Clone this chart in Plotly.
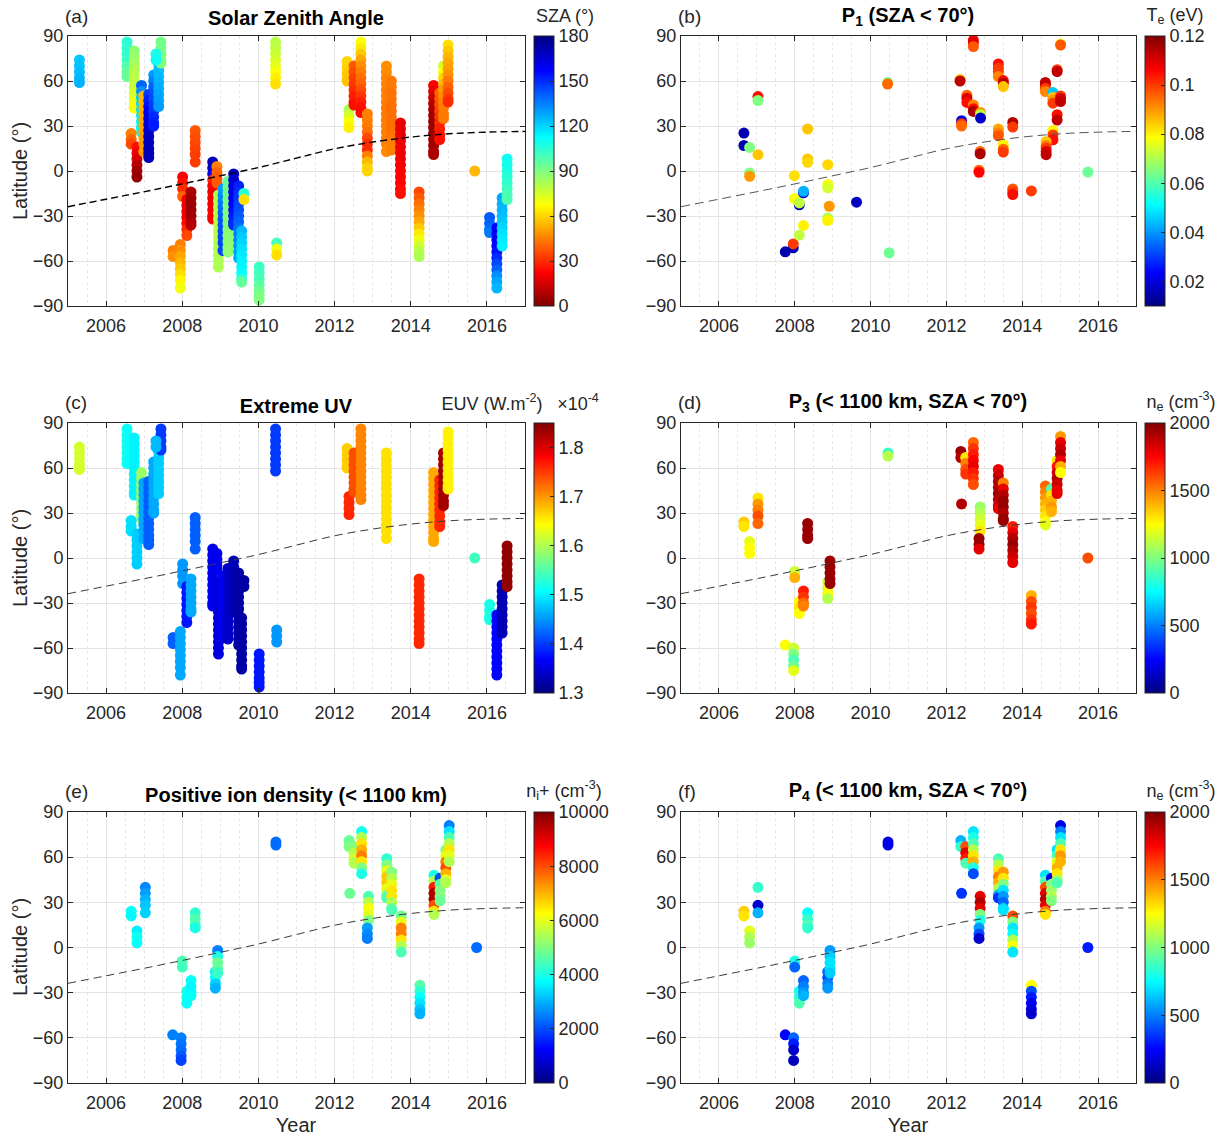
import plotly.graph_objects as go

FONT = "Liberation Sans, Arial, Helvetica, sans-serif"
W, H = 1225, 1140

# ---------------------------------------------------------------- data ----
# Saturn subsolar latitude (dashed curve on every panel)
subsolar_year = [2005, 2006, 2007, 2008, 2009, 2010, 2011, 2012, 2013, 2014, 2015, 2016, 2017]
subsolar_lat = [-23.8, -18.8, -13.8, -8.6, -3.2, 2.3, 8.6, 14.8, 19.3, 22.6, 24.8, 25.9, 26.4]

# Flyby tracks used in panels (a) and (c): decimal year, latitude samples,
# solar zenith angle along the track (deg) and EUV flux (x1e-4 W m^-2, None = no data)
ac_year = [2005.30, 2006.55, 2006.74, 2006.93, 2006.66, 2006.81, 2006.99, 2007.12,
           2007.25, 2007.38, 2007.44, 2007.31, 2007.76, 2007.95, 2008.01, 2008.12,
           2008.23, 2008.34, 2008.80, 2008.91, 2008.95, 2009.07, 2009.20, 2009.35,
           2009.48, 2009.56, 2009.62, 2010.02, 2010.45, 2010.48, 2012.33, 2012.38,
           2012.51, 2012.69, 2012.86, 2013.36, 2013.49, 2013.73, 2014.22, 2014.60,
           2014.76, 2014.86, 2014.98, 2015.68, 2016.07, 2016.26, 2016.40, 2016.53]
ac_lat = [
    [74, 70, 66, 62, 59],
    [86, 82, 78, 74, 70, 66, 63],
    [80, 76, 72, 68, 64, 60, 56, 52, 48, 44, 42],
    [57, 53, 49, 45, 41, 37, 33, 29, 26],
    [25, 21, 18],
    [16, 12, 8, 4, 0, -4],
    [50, 46, 42, 38, 34, 30, 26, 22, 18, 13],
    [51, 47, 43, 39, 35, 31, 27, 23, 19, 15, 12, 9],
    [64, 60, 56, 52, 48, 44, 40, 36, 32, 30],
    [71, 67, 63, 59, 55, 51, 47, 43],
    [86, 82, 78, 74, 72],
    [78, 74],
    [-53, -57],
    [-49, -53, -57, -61, -65, -69, -73, -78],
    [-4, -8, -12, -17],
    [-19, -23, -27, -31, -35, -39, -43],
    [-14, -18, -22, -26, -30, -34, -36],
    [27, 23, 19, 15, 11, 6],
    [6, 2, -2, -6, -10, -14, -18, -22, -26, -30, -32],
    [3, -1, -5, -8],
    [-16, -20, -24, -28, -32, -36, -40, -44, -48, -52, -56, -60, -64],
    [-12, -16, -20, -24, -28, -32, -36, -40, -44, -48, -53],
    [-7, -11, -15, -19, -23, -27, -31, -35, -39, -43, -47, -51, -54],
    [-2, -6, -10, -14, -18, -22, -26, -30, -34, -36],
    [-10, -14, -18, -22, -26, -30, -34, -38, -42, -46, -50, -54, -58],
    [-40, -44, -48, -52, -56, -60, -64, -68, -72, -74],
    [-15, -19],
    [-64, -68, -72, -76, -80, -83, -86],
    [86, 82, 78, 74, 70, 66, 62, 58],
    [-48, -52, -56],
    [73, 69, 65, 61, 60],
    [41, 37, 33, 29],
    [70, 66, 62, 58, 54, 50, 46, 44],
    [86, 82, 78, 74, 70, 66, 62, 58, 54, 50, 46, 42, 39],
    [38, 34, 30, 26, 22, 18, 14, 10, 6, 2, 0],
    [70, 66, 62, 58, 54, 50, 46, 42, 38, 34, 30, 26, 22, 18, 13],
    [60, 56, 52, 48, 44, 40, 36, 32, 28, 24, 20, 16, 14],
    [32, 28, 24, 20, 16, 12, 8, 4, 0, -4, -8, -12, -15],
    [-14, -18, -22, -26, -30, -34, -38, -42, -46, -50, -54, -57],
    [57, 53, 49, 45, 41, 37, 33, 29, 25, 21, 17, 13, 11],
    [52, 48, 44, 40, 36, 32, 28, 24, 21],
    [70, 66, 62, 58, 54, 50, 46, 42, 38, 35],
    [84, 80, 76, 72, 68, 64, 60, 56, 52, 48, 46],
    [0],
    [-31, -35, -39, -41],
    [-38, -42, -46, -50, -54, -58, -62, -66, -70, -74, -78],
    [-18, -22, -26, -30, -34, -38, -42, -46, -50],
    [8, 4, 0, -4, -8, -12, -16, -19],
]
ac_sza = [
    [122, 123, 124, 125, 126],
    [105, 104, 104, 103, 98, 95, 94],
    [88, 86, 84, 82, 80, 79, 78, 75, 72, 70, 68],
    [140, 132, 122, 120, 118, 116, 115, 114, 113],
    [45, 40, 35],
    [25, 20, 15, 10, 6, 4],
    [55, 55, 54, 53, 52, 52, 51, 50, 50, 50],
    [148, 152, 156, 160, 163, 165, 167, 168, 169, 170, 170, 170],
    [130, 135, 140, 143, 145, 147, 148, 150, 152, 153],
    [122, 124, 125, 126, 127, 128, 129, 130],
    [92, 92, 91, 90, 90],
    [108, 110],
    [45, 48],
    [45, 48, 52, 55, 58, 62, 66, 70],
    [22, 25, 30, 40],
    [20, 20, 20, 20, 25, 30, 35],
    [8, 6, 5, 5, 6, 8, 10],
    [38, 36, 35, 34, 33, 33],
    [170, 168, 160, 30, 22, 20, 20, 20, 20, 22, 22],
    [45, 40, 38, 38],
    [82, 81, 80, 80, 80, 79, 79, 80, 80, 81, 81, 82, 82],
    [130, 132, 135, 138, 140, 142, 143, 144, 145, 145, 145],
    [95, 94, 93, 92, 91, 90, 90, 89, 89, 88, 88, 87, 87],
    [168, 166, 164, 162, 160, 158, 156, 154, 152, 150],
    [152, 150, 148, 146, 144, 142, 140, 138, 136, 134, 132, 130, 128],
    [125, 122, 120, 118, 116, 115, 114, 112, 105, 95],
    [105, 62],
    [102, 101, 100, 96, 93, 91, 90],
    [80, 79, 77, 75, 72, 68, 65, 62],
    [100, 70, 62],
    [60, 60, 58, 58, 57],
    [82, 75, 68, 65],
    [38, 36, 34, 32, 30, 28, 26, 25],
    [68, 64, 58, 52, 48, 45, 42, 40, 36, 32, 28, 25, 24],
    [45, 45, 44, 42, 35, 30, 30, 45, 55, 60, 60],
    [48, 47, 46, 46, 45, 45, 45, 44, 44, 44, 45, 45, 45, 46, 47],
    [44, 44, 43, 43, 42, 42, 42, 42, 42, 43, 44, 45, 45],
    [18, 18, 19, 19, 20, 20, 20, 21, 22, 22, 23, 24, 25],
    [35, 38, 42, 45, 48, 52, 58, 64, 70, 76, 80, 82],
    [22, 18, 14, 10, 8, 6, 5, 5, 5, 6, 6, 7, 8],
    [40, 38, 36, 34, 32, 30, 28, 26, 25],
    [75, 68, 60, 55, 50, 48, 46, 45, 44, 44],
    [62, 58, 55, 52, 50, 48, 44, 40, 36, 32, 30],
    [55],
    [142, 140, 138, 136],
    [158, 160, 160, 158, 155, 150, 145, 140, 132, 128, 125],
    [128, 126, 125, 124, 122, 120, 118, 116, 115],
    [110, 109, 108, 106, 104, 102, 100, 99],
]
ac_euv = [1.62, 1.51, 1.50, 1.59, 1.49, 1.48, 1.46, 1.42, 1.46, 1.48, 1.40, 1.47,
          1.42, 1.46, 1.45, 1.38, 1.46, 1.42, 1.36, 1.36, 1.35, 1.36, 1.34, 1.33,
          1.32, 1.32, 1.32, 1.38, 1.40, 1.45, 1.67, 1.76, 1.74, 1.71, None, 1.66,
          None, None, 1.76, 1.69, 1.76, 1.83, 1.65, 1.54, 1.52, 1.37, 1.33, 1.84]

# Panel (b): P1 electron temperature samples (SZA < 70 deg)
p1_year = [2006.66, 2006.66, 2006.81, 2006.81, 2006.81, 2007.03, 2007.03, 2007.03,
           2007.75, 2007.96, 2007.96, 2007.99, 2007.99, 2008.12, 2008.12, 2008.23,
           2008.23, 2008.23, 2008.12, 2008.34, 2008.34, 2008.34, 2008.87, 2008.87,
           2008.87, 2008.91, 2008.87, 2008.87, 2009.63, 2010.45, 2010.45, 2010.49,
           2012.36, 2012.36, 2012.40, 2012.40, 2012.40, 2012.54, 2012.54, 2012.54,
           2012.71, 2012.71, 2012.71, 2012.71, 2012.71, 2012.71, 2012.90, 2012.90,
           2012.90, 2012.89, 2012.89, 2012.86, 2012.86, 2013.37, 2013.37, 2013.37,
           2013.37, 2013.50, 2013.50, 2013.50, 2013.37, 2013.37, 2013.37, 2013.50,
           2013.50, 2013.50, 2013.75, 2013.75, 2013.75, 2013.75, 2013.75, 2014.24,
           2014.61, 2014.61, 2014.61, 2014.61, 2014.81, 2014.81, 2014.81, 2014.81,
           2014.92, 2014.92, 2015.01, 2015.01, 2015.01, 2015.01, 2015.01, 2014.92,
           2014.92, 2014.81, 2014.81, 2014.81, 2014.63, 2014.63, 2014.63, 2014.63,
           2014.63, 2015.73]
p1_lat = [25.3, 17.0, 15.7, -1.3, -3.5, 49.6, 47.0, 10.9,
          -53.9, -51.2, -48.6, -3.1, -18.4, -22.5, -21.3, -14.5,
          -13.5, -36.4, -42.8, 28.0, 8.0, 5.8, 4.2, -9.0,
          -11.3, -23.5, -31.3, -33.0, -20.8, 59.0, 58.0, -54.5,
          61.0, 60.0, 33.5, 31.5, 30.0, 50.5, 48.5, 45.7,
          87.3, 85.5, 83.0, 44.0, 41.5, 39.7, 39.0, 37.5,
          35.3, 13.0, 11.5, 0.5, -0.9, 71.4, 68.5, 66.3,
          63.0, 60.3, 58.5, 56.3, 28.0, 25.5, 23.5, 17.5,
          14.5, 12.6, 32.4, 29.3, -12.0, -14.0, -15.7, -13.3,
          59.0, 57.4, 55.0, 53.0, 52.3, 49.0, 47.4, 45.2,
          67.5, 66.3, 84.5, 84.0, 50.0, 48.5, 46.3, 37.5,
          34.0, 27.0, 24.0, 20.8, 19.5, 17.0, 15.3, 13.0,
          10.9, -0.7]
p1_te = [0.015, 0.015, 0.065, 0.065, 0.090, 0.105, 0.065, 0.085,
         0.015, 0.015, 0.100, 0.082, 0.078, 0.015, 0.072, 0.020,
         0.043, 0.080, 0.072, 0.085, 0.085, 0.083, 0.083, 0.078,
         0.074, 0.090, 0.070, 0.080, 0.017, 0.065, 0.095, 0.063,
         0.085, 0.113, 0.020, 0.100, 0.095, 0.095, 0.110, 0.105,
         0.106, 0.110, 0.097, 0.092, 0.105, 0.115, 0.090, 0.072,
         0.018, 0.095, 0.115, 0.095, 0.106, 0.105, 0.100, 0.100,
         0.092, 0.105, 0.114, 0.085, 0.088, 0.092, 0.097, 0.080,
         0.095, 0.100, 0.115, 0.100, 0.097, 0.100, 0.105, 0.100,
         0.113, 0.113, 0.100, 0.092, 0.045, 0.085, 0.090, 0.100,
         0.100, 0.113, 0.080, 0.097, 0.100, 0.110, 0.113, 0.105,
         0.113, 0.080, 0.100, 0.105, 0.085, 0.092, 0.100, 0.110,
         0.113, 0.063]

# Flyby tracks below 1100 km used in panels (d), (e) and (f)
def_year = [2006.66, 2006.81, 2007.03, 2007.75, 2007.97, 2008.00, 2008.12, 2008.23,
            2008.34, 2008.87, 2008.93, 2010.46, 2012.38, 2012.40, 2012.51, 2012.71,
            2012.89, 2012.86, 2013.37, 2013.50, 2013.75, 2014.24, 2014.61, 2014.77,
            2014.92, 2015.01, 2015.73]
def_lat = [
    [24, 21], [11, 7, 3], [40, 36, 32, 28, 23], [-58], [-60, -64, -68, -72, -75],
    [-9, -13], [-29, -33, -37], [-22, -26, -30, -32], [23, 19, 15, 13],
    [-16, -20, -24, -27], [-2, -6, -10, -14, -17], [70, 68], [71, 67], [36],
    [67, 63, 59, 56], [77, 73, 69, 65, 61, 57, 53, 49], [34, 30, 26, 22, 18],
    [13, 9, 6], [59, 55, 51, 47, 43, 39, 35, 33], [50, 46, 42, 38, 34, 30, 26, 25],
    [21, 17, 13, 9, 5, 1, -3], [-25, -29, -33, -37, -41, -44],
    [48, 44, 40, 36, 32, 28, 24, 22], [46, 42, 38, 34, 31],
    [65, 61, 57, 53, 49, 45, 43], [81, 77, 73, 69, 65, 61, 57], [0],
]
# P3 electron density (cm^-3)
p3_ne = [
    [1350, 1300], [1200, 1250, 1250], [1300, 1450, 1500, 1600, 1550], [1250],
    [1150, 1000, 900, 950, 1200], [1150, 1400], [1250, 1300, 1250],
    [1700, 1650, 1550, 1500], [1950, 1950, 1950, 1950], [1150, 1200, 1250, 1100],
    [1950, 1950, 1950, 1950, 1950], [850, 1100], [1950, 1900], [1900],
    [1300, 1500, 1600, 1650], [1550, 1650, 1700, 1750, 1800, 1700, 1650, 1600],
    [1050, 1100, 1150, 1200, 1300], [1950, 1950, 1800],
    [1800, 1850, 1900, 1900, 1950, 1900, 1850, 1800],
    [1500, 1800, 1900, 1950, 1950, 1900, 1950, 1950],
    [1700, 1800, 1900, 1950, 1900, 1850, 1800], [1400, 1600, 1650, 1600, 1650, 1700],
    [1550, 1500, 1450, 1400, 1350, 1300, 1250, 1200], [900, 1300, 1400, 1450, 1400],
    [1300, 1700, 1850, 1900, 1850, 1800, 1800], [1450, 1800, 1850, 1900, 1800, 1400, 1250],
    [1600],
]
# Positive ion density (cm^-3)
ni_plus = [
    [3800, 3700], [3600, 3900, 3800], [2600, 2800, 3000, 3200, 3300], [2500],
    [2500, 2400, 2300, 2100, 1900], [4500, 4400], [4000, 3900, 3800],
    [3800, 3700, 3700, 3800], [4200, 4500, 4500, 4000], [3600, 3800, 3300, 3000],
    [2500, 4000, 4800, 4700, 4300], [2300, 2300], [4800, 5000], [4800],
    [5000, 5500, 5800, 5500], [3900, 5500, 6500, 7000, 7500, 6500, 5000, 4000],
    [4500, 5500, 6200, 6000, 5000], [2800, 2600, 2500],
    [4200, 5000, 6000, 6800, 6800, 6000, 5000, 4500],
    [5000, 5500, 6000, 6500, 6500, 5500, 5000, 4500],
    [4800, 6000, 7500, 7500, 6500, 5500, 4500], [4600, 4200, 3800, 3500, 3200, 3000],
    [4000, 5500, 8500, 9500, 9500, 8000, 6500, 5500], [2000, 4500, 5000, 5000, 4800],
    [5000, 6000, 7500, 8000, 7000, 6000, 5500], [2500, 3500, 4500, 5500, 6500, 6000, 5500],
    [2300],
]
# P4 electron density (cm^-3), None = no sample
p4_ne = [
    [1350, 1300], [1200, 1100, 1050], [850, None, None, 150, 600], [250],
    [450, 300, 150, None, 120], [800, 450], [800, 850, 900], [450, 500, 550, 600],
    [750, 850, 900, 850], [450, 400, 500, 550], [550, 650, 700, 700, 650], [200, 200],
    [600, 850], [350], [1600, 1800, 1700, 900], [700, 800, 900, 1100, 1300, 1400, 800, 400],
    [1800, 1900, 1800, 1000, 800], [550, 400, 150],
    [900, 1100, 1300, 1500, 1400, 1100, 600, 350],
    [1450, 1300, 1000, 700, 550, 450, 650, 700],
    [1600, 1000, 700, 750, 1100, 1250, 700], [1250, 400, 300, 250, 200, 150],
    [700, 900, 1600, 1800, 1900, 1800, 1500, 1300], [200, 1000, 1050, 1100, 1000],
    [700, 900, 1200, 1400, 1300, 1100, 900], [200, 500, 700, 900, 1300, 1450, 1400],
    [300],
]

# Colour-bar tick labels
sza_ticks = [0, 30, 60, 90, 120, 150, 180]
te_ticks = [0.02, 0.04, 0.06, 0.08, 0.1, 0.12]
euv_ticks = [1.3, 1.4, 1.5, 1.6, 1.7, 1.8]
ne_ticks = [0, 500, 1000, 1500, 2000]
ni_ticks = [0, 2000, 4000, 6000, 8000, 10000]
year_ticks = [2006, 2008, 2010, 2012, 2014, 2016]
lat_ticks = [-90, -60, -30, 0, 30, 60, 90]

# -------------------------------------------------------------- styling ----
JET = [[0.0, "rgb(0,0,128)"], [0.125, "rgb(0,0,255)"], [0.375, "rgb(0,255,255)"],
       [0.625, "rgb(255,255,0)"], [0.875, "rgb(255,0,0)"], [1.0, "rgb(128,0,0)"]]
INK = "#262626"
TICK_SIZE = 18
MARKER = 11

# pixel boxes (left, right, top, bottom) of the six panels
BOX = {
    "a": (68, 525, 36, 306), "b": (681, 1136, 36, 306),
    "c": (68, 525, 423, 693), "d": (681, 1136, 423, 693),
    "e": (68, 525, 812, 1083), "f": (681, 1136, 812, 1083),
}
AXN = {"a": 1, "b": 2, "c": 3, "d": 4, "e": 5, "f": 6}


def px(x):
    return x / W


def py(y):
    return 1 - y / H


def flatten(years, lats, vals):
    xs, ys, cs = [], [], []
    for yr, la, va in zip(years, lats, vals):
        if va is None:
            continue
        if not isinstance(va, list):
            va = [va] * len(la)
        for l, v in zip(la, va):
            if v is None:
                continue
            xs.append(yr)
            ys.append(l)
            cs.append(v)
    return xs, ys, cs


fig = go.Figure()


def add_panel(key, xs, ys, cs, cmin, cmax, ticks, ticktext=None, reverse=False, dash_style=None):
    n = AXN[key]
    l, r, t, b = BOX[key]
    xa = "x" if n == 1 else f"x{n}"
    ya = "y" if n == 1 else f"y{n}"
    fig.add_trace(go.Scatter(
        x=xs, y=ys, mode="markers", xaxis=xa, yaxis=ya, showlegend=False,
        hoverinfo="skip",
        marker=dict(
            size=MARKER, color=cs, colorscale=JET, reversescale=reverse,
            cmin=cmin, cmax=cmax, line=dict(width=0),
            colorbar=dict(
                x=px(r + 9), xanchor="left", xpad=0, ypad=0, thickness=20,
                lenmode="fraction", len=(b - t) / H, y=py((t + b) / 2), yanchor="middle",
                outlinewidth=1, outlinecolor=INK,
                tickmode="array", tickvals=ticks,
                ticktext=ticktext if ticktext else [str(v) for v in ticks],
                ticks="inside", ticklen=4, tickcolor=INK,
                tickfont=dict(family=FONT, size=TICK_SIZE, color=INK),
            ),
        ),
    ))
    ds = dash_style or dict(color="#3a3a3a", width=1, dash="8px,5px")
    fig.add_trace(go.Scatter(
        x=subsolar_year, y=subsolar_lat, mode="lines", xaxis=xa, yaxis=ya,
        showlegend=False, hoverinfo="skip", line=dict(shape="spline", **ds),
    ))
    common = dict(showline=True, linecolor=INK, linewidth=1, mirror="ticks",
                  ticks="inside", ticklen=5, tickcolor=INK, tickwidth=1,
                  showgrid=True, gridcolor="#e4e4e4", gridwidth=1, zeroline=False,
                  tickfont=dict(family=FONT, size=TICK_SIZE, color=INK), fixedrange=True)
    fig.layout[f"xaxis{n}"] = dict(
        domain=[px(l), px(r)], anchor=ya, range=[2005, 2017],
        tickmode="array", tickvals=year_ticks, ticklabelstandoff=3,
        minor=dict(tick0=2005, dtick=0.5, showgrid=True, gridcolor="#e6e6e6",
                   griddash="dot", gridwidth=1, ticks=""),
        **common)
    fig.layout[f"yaxis{n}"] = dict(
        domain=[py(b), py(t)], anchor=xa, range=[-90, 90],
        tickmode="array", tickvals=lat_ticks, **common)


# (a) solar zenith angle
xa_, ya_, ca_ = flatten(ac_year, ac_lat, ac_sza)
add_panel("a", xa_, ya_, ca_, 0, 180, sza_ticks, reverse=True,
          dash_style=dict(color="black", width=1.4, dash="7px,4px"))
# (b) P1 electron temperature
add_panel("b", p1_year, p1_lat, p1_te, 0.01, 0.12, te_ticks,
          ticktext=["0.02", "0.04", "0.06", "0.08", "0.1", "0.12"],
          dash_style=dict(color="#555555", width=1, dash="9px,5px"))
# (c) extreme UV flux
xc_, yc_, cc_ = flatten(ac_year, ac_lat, ac_euv)
add_panel("c", xc_, yc_, cc_, 1.3, 1.85, euv_ticks)
# (d) P3 electron density
xd_, yd_, cd_ = flatten(def_year, def_lat, p3_ne)
add_panel("d", xd_, yd_, cd_, 0, 2000, ne_ticks)
# (e) positive ion density
xe_, ye_, ce_ = flatten(def_year, def_lat, ni_plus)
add_panel("e", xe_, ye_, ce_, 0, 10000, ni_ticks)
# (f) P4 electron density
xf_, yf_, cf_ = flatten(def_year, def_lat, p4_ne)
add_panel("f", xf_, yf_, cf_, 0, 2000, ne_ticks)

# -------------------------------------------------------------- labels ----
# Horizontal labels live on an invisible full-page axis pair measured in pixels.
fig.layout["xaxis7"] = dict(domain=[0, 1], range=[0, W], visible=False, fixedrange=True,
                            anchor="y7")
fig.layout["yaxis7"] = dict(domain=[0, 1], range=[H, 0], visible=False, fixedrange=True,
                            anchor="x7")


def label_group(items, size, bold=False, position="middle center"):
    fig.add_trace(go.Scatter(
        x=[it[1] for it in items], y=[it[2] for it in items],
        text=[f"<b>{it[0]}</b>" if bold else it[0] for it in items],
        mode="text", textposition=position, xaxis="x7", yaxis="y7",
        cliponaxis=False, showlegend=False, hoverinfo="skip",
        textfont=dict(family=FONT, size=size, color="black" if bold else INK),
    ))


# panel letters
label_group([("(a)", 65, 18), ("(b)", 678, 18), ("(c)", 65, 404),
             ("(d)", 678, 404), ("(e)", 65, 793), ("(f)", 678, 793)],
            size=19, position="middle right")
# panel titles
label_group([("Solar Zenith Angle", 296, 20),
             ("P<sub>1</sub> (SZA &lt; 70°)", 908, 17),
             ("Extreme UV", 296, 408),
             ("P<sub>3</sub> (&lt; 1100 km, SZA &lt; 70°)", 908, 403),
             ("Positive ion density (&lt; 1100 km)", 296, 797),
             ("P<sub>4</sub> (&lt; 1100 km, SZA &lt; 70°)", 908, 792)],
            size=20, bold=True)
# colour-bar titles
label_group([("SZA (°)", 565, 17),
             ("T<sub>e</sub> (eV)", 1175, 16),
             ("EUV (W.m<sup>-2</sup>)", 492, 405),
             ("×10<sup>-4</sup>", 578, 405),
             ("n<sub>e</sub> (cm<sup>-3</sup>)", 1181, 403),
             ("n<sub>i</sub>+ (cm<sup>-3</sup>)", 564, 792),
             ("n<sub>e</sub> (cm<sup>-3</sup>)", 1181, 792)],
            size=18)
# x-axis titles
label_group([("Year", 296, 1127), ("Year", 908, 1127)], size=20)

# vertical y-axis titles
notes = [dict(text="Latitude (°)", x=px(20), y=py(yc), xref="paper", yref="paper",
              showarrow=False, textangle=-90, xanchor="center", yanchor="middle",
              font=dict(family=FONT, size=20, color=INK))
         for yc in (171, 558, 947)]

fig.update_layout(
    width=W, height=H, margin=dict(l=0, r=0, t=0, b=0, autoexpand=False),
    paper_bgcolor="white", plot_bgcolor="rgba(0,0,0,0)",
    font=dict(family=FONT, size=18, color=INK), annotations=notes, showlegend=False,
)

fig.write_html("out.html")
